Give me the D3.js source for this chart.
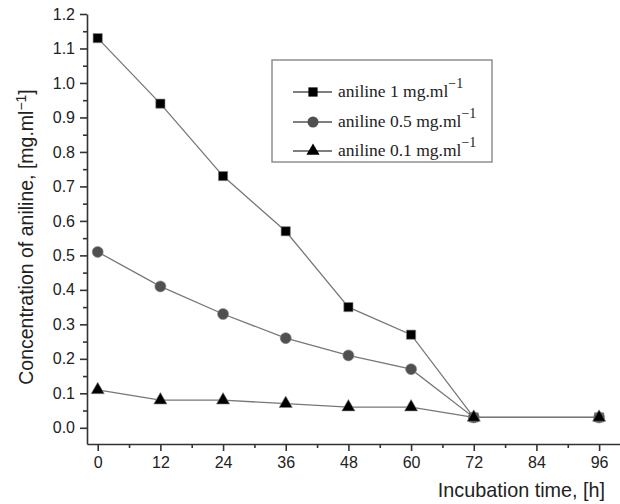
<!DOCTYPE html>
<html>
<head>
<style>
  body { margin: 0; background: #fff; }
  svg { display: block; }
  .tick text { font-family: "Liberation Sans", Arial, sans-serif; font-size: 16px; fill: #222; }
</style>
<script src="https://d3js.org/d3.v7.min.js"></script>
</head>
<body>
<script>
// data
var hours = [0, 12, 24, 36, 48, 60, 72, 96];
var aniline1 = [1.13, 0.94, 0.73, 0.57, 0.35, 0.27, 0.03, 0.03];
var aniline05 = [0.51, 0.41, 0.33, 0.26, 0.21, 0.17, 0.03, 0.03];
var aniline01 = [0.11, 0.08, 0.08, 0.07, 0.06, 0.06, 0.03, 0.03];
var xTicks = [0, 12, 24, 36, 48, 60, 72, 84, 96];
var yTicks = [0, 0.1, 0.2, 0.3, 0.4, 0.5, 0.6, 0.7, 0.8, 0.9, 1.0, 1.1, 1.2];

var series = [
  {name: "aniline 1 mg.ml", values: aniline1, symbol: d3.symbolSquare, fill: "#000", size: 85},
  {name: "aniline 0.5 mg.ml", values: aniline05, symbol: d3.symbolCircle, fill: "#505050", size: 95},
  {name: "aniline 0.1 mg.ml", values: aniline01, symbol: d3.symbolTriangle, fill: "#000", size: 75}
];

var W = 620, H = 504;
var mLeft = 87, mRight = 620, mTop = 14, mBottom = 444;

var svg = d3.select("body").append("svg")
  .attr("width", W).attr("height", H);

var x = d3.scaleLinear().domain([-2.05, 100]).range([mLeft, mRight]);
var y = d3.scaleLinear().domain([-0.047, 1.2]).range([mBottom, mTop]);

// x axis, major + minor ticks
svg.append("g")
  .attr("transform", "translate(0," + mBottom + ")")
  .call(d3.axisBottom(x).tickValues(xTicks).tickSize(7).tickPadding(6).tickSizeOuter(0));
svg.append("g")
  .attr("transform", "translate(0," + mBottom + ")")
  .call(d3.axisBottom(x).tickValues(xTicks.slice(0, -1).map(function(d){ return d + 6; })).tickSize(4).tickFormat("").tickSizeOuter(0))
  .select(".domain").remove();

// y axis, major + minor ticks
svg.append("g")
  .attr("transform", "translate(" + mLeft + ",0)")
  .call(d3.axisLeft(y).tickValues(yTicks).tickFormat(d3.format(".1f")).tickSize(7).tickPadding(5).tickSizeOuter(0));
svg.append("g")
  .attr("transform", "translate(" + mLeft + ",0)")
  .call(d3.axisLeft(y).tickValues(yTicks.slice(0, -1).map(function(d){ return d + 0.05; })).tickSize(4).tickFormat("").tickSizeOuter(0))
  .select(".domain").remove();

svg.selectAll(".domain, .tick line").attr("stroke", "#333").attr("stroke-width", 1.6);
svg.selectAll(".tick text").attr("fill", "#222");

// axis titles
var yt = svg.append("text")
  .attr("transform", "translate(33,237) rotate(-90)")
  .attr("text-anchor", "middle")
  .style("font-family", "'Liberation Sans', Arial, sans-serif")
  .style("font-size", "19.5px").attr("fill", "#222");
yt.append("tspan").text("Concentration of aniline, [mg.ml");
yt.append("tspan").attr("dy", -7).style("font-size", "14px").text("\u22121");
yt.append("tspan").attr("dy", 7).text("]");

svg.append("text")
  .attr("x", 605).attr("y", 497)
  .attr("text-anchor", "end")
  .style("font-family", "'Liberation Sans', Arial, sans-serif")
  .style("font-size", "19.8px").attr("fill", "#222")
  .text("Incubation time, [h]");

// lines and markers
var line = d3.line()
  .x(function(d, i){ return x(hours[i]); })
  .y(function(d){ return y(d); });

series.forEach(function(s) {
  svg.append("path")
    .attr("d", line(s.values))
    .attr("fill", "none")
    .attr("stroke", "#777")
    .attr("stroke-width", 1.3);
});
series.forEach(function(s) {
  svg.selectAll(null).data(s.values).enter().append("path")
    .attr("d", d3.symbol().type(s.symbol).size(s.size))
    .attr("transform", function(d, i){ return "translate(" + x(hours[i]) + "," + y(d) + ")"; })
    .attr("fill", s.fill)
    .attr("stroke", "#888")
    .attr("stroke-width", 0.6);
});

// legend
var lg = svg.append("g");
lg.append("rect")
  .attr("x", 272).attr("y", 60).attr("width", 220).attr("height", 102)
  .attr("fill", "#fff").attr("stroke", "#888").attr("stroke-width", 1.4);
var rowY = [92, 122, 151];
series.forEach(function(s, i) {
  var g = lg.append("g").attr("transform", "translate(0," + rowY[i] + ")");
  g.append("line").attr("x1", 293).attr("x2", 332).attr("y1", 0).attr("y2", 0)
    .attr("stroke", "#555").attr("stroke-width", 1.3);
  g.append("path").attr("d", d3.symbol().type(s.symbol).size(s.size))
    .attr("transform", "translate(313,0)").attr("fill", s.fill);
  var t = g.append("text").attr("x", 338).attr("y", 5)
    .style("font-family", "'Liberation Serif', 'Times New Roman', serif")
    .style("font-size", "17.5px").attr("fill", "#222")
    .text(s.name);
  t.append("tspan").attr("dy", -9).style("font-size", "14px").text("\u22121");
});
</script>
</body>
</html>
